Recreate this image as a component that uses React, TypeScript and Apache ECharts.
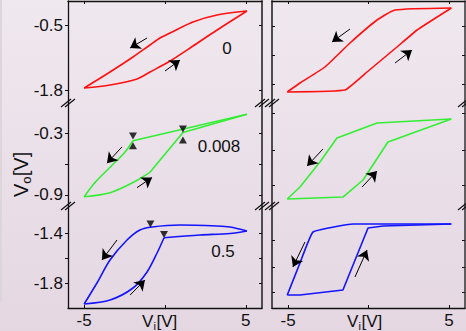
import React, { useEffect, useRef } from "react";
import * as echarts from "echarts";

const FONT = "'Liberation Sans', Arial, Helvetica, sans-serif";

// x axis
const xTicks = [-5, 0, 5];
const xLabels = [-5, 5];

// y ranges per sub-plot (top, middle, bottom)
const yRanges = [
  [-2.06, -0.02],
  [-1.01, 0],
  [-2.0, -1.184],
];
// left panel ticks / labels
const leftTicks = [[-0.5, -1.8], [-0.3, -0.6, -0.9], [-1.4, -1.6, -1.8]];
const leftLabels = [[-0.5, -1.8], [-0.3, -0.9], [-1.4, -1.8]];
// right panel ticks (no labels)
const rightTicks = [[-0.52, -1.1, -1.68], [-0.1, -0.46, -0.81], [-1.46, -1.67, -1.87]];

// ---- left panel data (V_i, V_o) ----
const redDescL = [[5.07, -0.22], [3.22, -0.3], [1.73, -0.44], [0.31, -0.66], [-0.31, -0.76], [-0.93, -0.9], [-1.98, -1.14], [-3.4, -1.44], [-5, -1.76]];
const redAscL = [[-5, -1.76], [-3.4, -1.7], [-1.73, -1.58], [-0.93, -1.44], [0.31, -1.22], [1.73, -0.92], [3.22, -0.6], [5.07, -0.22]];

const greenDescStraightL = [[5.07, -0.11], [-1.98, -0.37]];
const greenDescCurveL = [[-1.98, -0.37], [-2.47, -0.48], [-3.4, -0.63], [-4.33, -0.78], [-5, -0.92]];
const greenAscCurveL = [[-5, -0.92], [-3.4, -0.88], [-1.98, -0.78], [-0.93, -0.68]];
const greenAscStraightL = [[-0.93, -0.68], [1.11, -0.29], [5.07, -0.11]];

const blueDescL = [[5.07, -1.384], [4.02, -1.352], [3.22, -1.344], [0.93, -1.336], [-0.8, -1.352], [-1.55, -1.376], [-2.35, -1.456], [-3.4, -1.616], [-4.21, -1.8], [-5, -1.968]];
const blueAscCurveL = [[-5, -1.968], [-3.4, -1.936], [-1.98, -1.84], [-1.11, -1.712], [-0.49, -1.56], [-0.06, -1.438]];
const blueAscFlatL = [[-0.06, -1.438], [2.16, -1.416], [4.02, -1.404], [5.07, -1.384]];

// ---- right panel data ----
const redDescR = [[5.15, -0.16], [1.65, -0.2], [0.53, -0.4], [-1.15, -0.86], [-2.71, -1.34], [-4.26, -1.66], [-5.05, -1.84]];
const redAscR = [[-5.05, -1.84], [-1.46, -1.8], [-0.09, -1.44], [1.77, -0.94], [3.02, -0.6], [5.15, -0.16]];

const greenDescR = [[5.15, -0.157], [0.53, -0.196], [-1.96, -0.343], [-3.02, -0.578], [-4.26, -0.824], [-5.05, -0.941]];
const greenAscR = [[-5.05, -0.941], [-1.59, -0.922], [-0.34, -0.755], [1.21, -0.382], [5.15, -0.157]];

const blueDescR = [[5.15, -1.328], [-0.96, -1.328], [-3.45, -1.392], [-4.26, -1.64], [-5.05, -1.896]];
const blueAscR = [[-5.05, -1.896], [-4.26, -1.896], [-1.59, -1.856], [-0.03, -1.36], [0.9, -1.344], [5.15, -1.328]];

// markers
const greenDownMarks = [[-1.98, -0.324], [1.11, -0.255]];
const greenUpMarks = [[-1.98, -0.42], [1.11, -0.363]];
const blueDownMarks = [[-0.9, -1.328], [-0.06, -1.412]];

// arrows [tail, head]
const arrowsL1 = [[[-1.11, -0.76], [-2.16, -0.96]], [[0, -1.42], [0.93, -1.2]]];
const arrowsL2 = [[[-2.66, -0.43], [-3.59, -0.59]], [[-1.73, -0.83], [-0.8, -0.73]]];
const arrowsL3 = [[[-2.97, -1.456], [-3.9, -1.616]], [[-2.16, -1.896], [-1.24, -1.776]]];
const arrowsR1 = [[[-1.15, -0.58], [-2.27, -0.84]], [[1.65, -1.26], [2.71, -1.0]]];
const arrowsR2 = [[[-2.83, -0.451], [-3.82, -0.618]], [[-0.4, -0.824], [0.53, -0.667]]];
const arrowsR3 = [[[-3.95, -1.472], [-4.7, -1.672]], [[-0.84, -1.752], [-0.09, -1.536]]];

const loopLabels = ["0", "0.008", "0.5"];

const RED = "#ff1010";
const GREEN = "#33ee33";
const BLUE = "#1414ff";

export default function App() {
  const ref = useRef<HTMLDivElement>(null);

  useEffect(() => {
    document.body.style.margin = "0";
    if (!ref.current) return;
    const chart = echarts.init(ref.current, null, { renderer: "svg" });

    const gridTops = [1, 103, 206];
    const gridHeights = [102, 103, 102];
    const panels = [
      { left: 68, width: 194 },
      { left: 272, width: 193 },
    ];

    const grid: any[] = [];
    const xAxis: any[] = [];
    const yAxis: any[] = [];
    panels.forEach((p, pi) => {
      for (let s = 0; s < 3; s++) {
        const gi = pi * 3 + s;
        grid.push({ left: p.left, top: gridTops[s], width: p.width, height: gridHeights[s] });
        xAxis.push({
          gridIndex: gi,
          type: "value",
          min: -6,
          max: 6,
          position: s === 0 ? "top" : "bottom",
          show: s !== 1,
          axisLine: { show: true, onZero: false, lineStyle: { color: "#111", width: 1.3 } },
          axisTick: { show: true, inside: true, length: 3, customValues: xTicks, lineStyle: { color: "#111" } },
          axisLabel: {
            show: s === 2,
            customValues: xLabels,
            margin: 4,
            fontSize: 17,
            color: "#111",
            fontFamily: FONT,
            formatter: (v: number) => String(v),
          },
          splitLine: { show: false },
        });
        const ticks = pi === 0 ? leftTicks[s] : rightTicks[s];
        yAxis.push({
          gridIndex: gi,
          type: "value",
          min: yRanges[s][0],
          max: yRanges[s][1],
          position: "left",
          axisLine: {
            show: true,
            onZero: false,
            lineStyle: { color: pi === 0 ? "#111" : "#4d4d4d", width: pi === 0 ? 1.3 : 2 },
          },
          axisTick: { show: true, inside: pi !== 0, length: 3, customValues: ticks, lineStyle: { color: "#111" } },
          axisLabel: {
            show: pi === 0,
            customValues: leftLabels[s],
            margin: 5,
            fontSize: 17,
            color: "#111",
            fontFamily: FONT,
            formatter: (v: number) => v.toFixed(1),
          },
          splitLine: { show: false },
        });
        yAxis.push({
          gridIndex: gi,
          type: "value",
          min: yRanges[s][0],
          max: yRanges[s][1],
          position: "right",
          axisLine: {
            show: true,
            onZero: false,
            lineStyle: { color: pi === 0 ? "#4d4d4d" : "#333", width: pi === 0 ? 2 : 1.5 },
          },
          axisTick: { show: true, inside: true, length: 3, customValues: ticks, lineStyle: { color: "#111" } },
          axisLabel: { show: false },
          splitLine: { show: false },
        });
      }
    });

    const line = (data: number[][], color: string, gi: number, smooth: number | boolean) => ({
      type: "line",
      data,
      xAxisIndex: gi,
      yAxisIndex: gi * 2,
      symbol: "none",
      showSymbol: false,
      smooth,
      lineStyle: { color, width: 1.6 },
      itemStyle: { color },
      silent: true,
      z: 3,
    });
    const marks = (data: number[][], gi: number, down: boolean) => ({
      type: "scatter",
      data,
      xAxisIndex: gi,
      yAxisIndex: gi * 2,
      symbol: "triangle",
      symbolSize: [8, 7],
      symbolRotate: down ? 180 : 0,
      itemStyle: { color: "#000" },
      silent: true,
      z: 5,
    });
    const arrows = (pairs: number[][][], gi: number) => ({
      type: "lines",
      coordinateSystem: "cartesian2d",
      xAxisIndex: gi,
      yAxisIndex: gi * 2,
      data: pairs.map((c) => ({ coords: c })),
      symbol: ["none", "arrow"],
      symbolSize: [0, 10],
      lineStyle: { color: "#000", width: 1, opacity: 1 },
      silent: true,
      z: 4,
    });

    const series: any[] = [
      line(redDescL, RED, 0, 0.3),
      line(redAscL, RED, 0, 0.3),
      line(greenDescStraightL, GREEN, 1, false),
      line(greenDescCurveL, GREEN, 1, 0.3),
      line(greenAscCurveL, GREEN, 1, 0.3),
      line(greenAscStraightL, GREEN, 1, false),
      line(blueDescL, BLUE, 2, 0.3),
      line(blueAscCurveL, BLUE, 2, 0.3),
      line(blueAscFlatL, BLUE, 2, 0.3),
      line(redDescR, RED, 3, 0.15),
      line(redAscR, RED, 3, 0.1),
      line(greenDescR, GREEN, 4, false),
      line(greenAscR, GREEN, 4, false),
      line(blueDescR, BLUE, 5, 0.1),
      line(blueAscR, BLUE, 5, false),
      marks(greenDownMarks, 1, true),
      marks(greenUpMarks, 1, false),
      marks(blueDownMarks, 2, true),
      arrows(arrowsL1, 0),
      arrows(arrowsL2, 1),
      arrows(arrowsL3, 2),
      arrows(arrowsR1, 3),
      arrows(arrowsR2, 4),
      arrows(arrowsR3, 5),
    ];

    const graphic: any[] = [];
    // thin grey strip at left edge
    graphic.push({ type: "rect", shape: { x: 0, y: 0, width: 2, height: 302 }, style: { fill: "#dcd6db" }, z: 0 });
    // axis break marks
    [68, 262, 272, 465].forEach((x) => {
      [103, 206].forEach((y) => {
        [-2, 2].forEach((d) => {
          graphic.push({
            type: "line",
            shape: { x1: x - 5 + d, y1: y + 4, x2: x + 5 + d, y2: y - 4 },
            style: { stroke: "#111", lineWidth: 1.2 },
            z: 100,
          });
        });
      });
    });
    // loop labels
    const labelPos = [
      [227, 48],
      [219, 146],
      [223, 251],
    ];
    loopLabels.forEach((t, i) => {
      graphic.push({
        type: "text",
        x: labelPos[i][0],
        y: labelPos[i][1],
        style: { text: t, fontSize: 17, fontFamily: FONT, fill: "#111", align: "center", verticalAlign: "middle" },
        z: 100,
      });
    });
    // x titles V_i[V]
    [142, 347].forEach((x0) => {
      graphic.push({
        type: "group",
        x: x0,
        y: 321,
        children: [
          { type: "text", x: 0, y: 0, style: { text: "V", fontSize: 17, fontFamily: FONT, fill: "#111", verticalAlign: "middle" } },
          { type: "text", x: 11.5, y: 5, style: { text: "i", fontSize: 11, fontFamily: FONT, fill: "#111", verticalAlign: "middle" } },
          { type: "text", x: 14.5, y: 0, style: { text: "[V]", fontSize: 17, fontFamily: FONT, fill: "#111", verticalAlign: "middle" } },
        ],
        z: 100,
      });
    });
    // y title V_o[V]
    graphic.push({
      type: "group",
      x: 21,
      y: 197,
      rotation: Math.PI / 2,
      children: [
        { type: "text", x: 0, y: 0, style: { text: "V", fontSize: 20, fontFamily: FONT, fill: "#111", verticalAlign: "middle" } },
        { type: "text", x: 13.3, y: 5, style: { text: "o", fontSize: 13, fontFamily: FONT, fill: "#111", verticalAlign: "middle" } },
        { type: "text", x: 20.8, y: 0, style: { text: "[V]", fontSize: 20, fontFamily: FONT, fill: "#111", verticalAlign: "middle" } },
      ],
      z: 100,
    });

    chart.setOption({
      animation: false,
      backgroundColor: "transparent",
      grid,
      xAxis,
      yAxis,
      series,
      graphic,
    });

    return () => chart.dispose();
  }, []);

  return (
    <div
      ref={ref}
      style={{
        width: 466,
        height: 331,
        background: "linear-gradient(#f0e8ef, #e4d7e2)",
      }}
    />
  );
}
